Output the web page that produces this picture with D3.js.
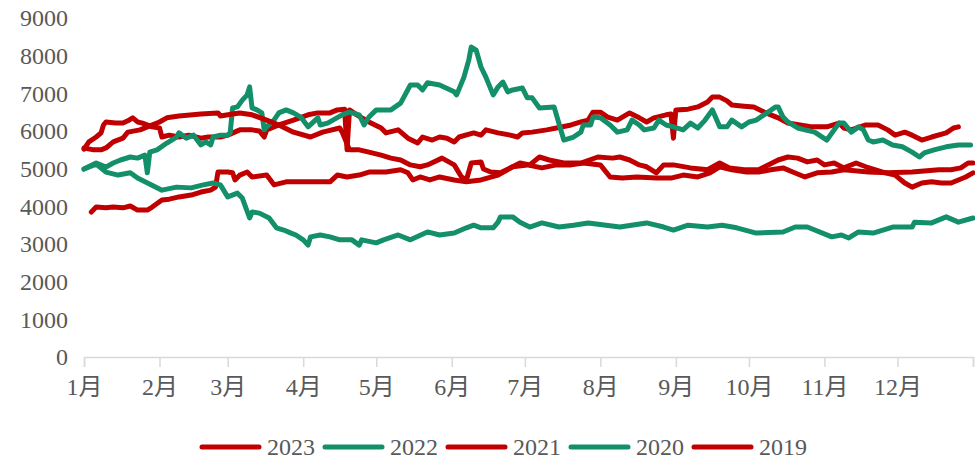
<!DOCTYPE html>
<html>
<head>
<meta charset="utf-8">
<script src="https://cdn.jsdelivr.net/npm/d3@7"></script>
<style>
  body { margin: 0; background: #fff; }
  text { font-family: "Liberation Serif", "Noto Sans CJK SC", serif; fill: #595959; }
</style>
</head>
<body>
<div class="canvas"></div>
<script>
// series names + colours (legend order = drawing order)
const years = ["2023", "2022", "2021", "2020", "2019"];
const colors = ["#c00000", "#138f6a", "#c00000", "#138f6a", "#c00000"];

const months = ["1月", "2月", "3月", "4月", "5月", "6月", "7月", "8月", "9月", "10月", "11月", "12月"];
const yTicks = [0, 1000, 2000, 3000, 4000, 5000, 6000, 7000, 8000, 9000];

// [day of year, value]
const s2023 = [[0,5520],[2,5710],[5,5840],[7,5950],[8,6160],[9,6240],[13,6210],[16,6210],[18,6270],[20,6350],
  [22,6240],[24,6210],[28,6110],[31,6080],[32,5840],[35,5890],[39,5840],[43,5890],[48,5810],[51,5840],
  [56,5840],[59,5890],[64,6030],[69,6030],[72,6000],[74,5840],[75,6030],[80,6160],[86,6290],[92,6430],
  [96,6480],[101,6480],[104,6560],[107,6580],[108,5500],[109,6560],[112,6430],[117,6240],[122,6080],[124,5950],
  [129,6030],[133,5810],[137,5680],[139,5840],[143,5760],[146,5840],[149,5810],[152,5710],[154,5840],[160,5950],
  [163,5890],[165,6030],[170,5950],[175,5890],[178,5840],[180,5950],[184,5970],[190,6030],[194,6080],[200,6160],
  [204,6240],[207,6290],[209,6500],[212,6500],[215,6370],[219,6290],[224,6480],[228,6350],[231,6240],[234,6350],
  [239,6430],[241,6450],[242,5810],[243,6560],[248,6580],[252,6640],[256,6770],[258,6900],[261,6900],[264,6800],
  [266,6690],[271,6660],[275,6640],[280,6480],[285,6350],[289,6210],[294,6160],[299,6110],[305,6110],[310,6210],
  [312,6080],[315,6030],[321,6160],[326,6160],[330,6030],[333,5890],[337,5970],[340,5890],[344,5760],[348,5840],
  [354,5950],[357,6080],[359,6110]];

const s2022 = [[0,4990],[5,5150],[9,5040],[12,5150],[15,5230],[19,5310],[22,5280],[25,5360],[26,4890],[27,5440],
  [30,5500],[34,5680],[38,5840],[39,5950],[42,5810],[45,5890],[48,5630],[50,5710],[52,5630],[53,5840],
  [56,5890],[59,5890],[60,5950],[61,6610],[63,6640],[65,6820],[67,6960],[68,7170],[69,6610],[71,6560],
  [73,6480],[74,6030],[75,6110],[78,6290],[80,6480],[83,6560],[86,6480],[89,6370],[92,6110],[96,6350],
  [97,6160],[100,6210],[106,6430],[109,6500],[113,6430],[115,6160],[117,6370],[120,6560],[126,6560],[130,6740],
  [134,7220],[137,7220],[139,7090],[141,7280],[146,7220],[152,7040],[153,6960],[156,7430],[158,7890],[159,8230],
  [161,8150],[163,7700],[165,7430],[168,6960],[170,7170],[172,7300],[174,7040],[176,7090],[180,7140],[182,6880],
  [184,6880],[187,6610],[193,6640],[197,5760],[201,5840],[204,5970],[205,6160],[208,6160],[209,6370],[212,6350],
  [216,6160],[219,5970],[223,6030],[225,6290],[228,6160],[230,6030],[234,6080],[236,6290],[239,6160],[242,6110],
  [246,6030],[249,6210],[252,6080],[255,6290],[258,6560],[261,6110],[264,6110],[266,6290],[270,6110],[273,6240],
  [276,6290],[284,6640],[285,6640],[287,6370],[289,6240],[293,6080],[296,6030],[300,5970],[305,5760],[310,6210],
  [312,6210],[315,5970],[318,6110],[320,6030],[322,5760],[324,5710],[328,5760],[332,5630],[336,5580],[340,5440],
  [343,5310],[345,5420],[349,5500],[354,5580],[359,5630],[364,5630]];

const s2021 = [[3,3850],[5,3980],[9,3960],[12,3980],[16,3960],[19,4010],[22,3900],[26,3900],[28,3980],[32,4170],
  [35,4190],[39,4250],[44,4300],[48,4380],[52,4430],[54,4510],[55,4910],[59,4910],[61,4890],[62,4700],
  [64,4830],[67,4910],[69,4780],[75,4830],[78,4570],[83,4650],[89,4650],[101,4650],[104,4830],[108,4780],
  [113,4830],[117,4910],[124,4910],[130,4970],[133,4890],[135,4700],[138,4780],[142,4700],[146,4780],[152,4700],
  [157,4650],[163,4700],[170,4830],[176,5050],[182,5100],[188,5020],[194,5100],[200,5100],[205,5150],[212,5100],
  [216,4780],[221,4750],[227,4780],[235,4750],[241,4750],[246,4830],[252,4780],[257,4890],[261,5050],[266,4970],
  [272,4910],[277,4910],[282,4970],[287,5020],[291,4910],[296,4780],[301,4890],[307,4910],[312,4970],[322,4910],
  [330,4890],[340,4910],[351,4970],[356,4970],[360,5020],[363,5150],[365,5150]];

const s2020 = [[0,4990],[5,5120],[9,4910],[14,4830],[19,4890],[22,4750],[32,4430],[38,4510],[44,4490],[49,4570],
  [53,4620],[56,4570],[59,4250],[63,4350],[65,4220],[68,3690],[69,3850],[72,3820],[76,3690],[79,3430],
  [82,3370],[85,3290],[87,3240],[90,3110],[92,2970],[93,3190],[97,3240],[101,3190],[105,3110],[110,3110],
  [113,2970],[114,3110],[120,3030],[123,3110],[129,3240],[134,3110],[141,3320],[146,3240],[152,3290],[157,3430],
  [160,3500],[163,3430],[168,3430],[170,3580],[171,3720],[176,3720],[179,3580],[183,3450],[188,3560],[195,3450],
  [201,3500],[207,3560],[220,3450],[231,3560],[238,3450],[242,3370],[248,3500],[256,3450],[262,3500],[268,3430],
  [276,3290],[287,3320],[292,3450],[297,3450],[307,3190],[311,3240],[314,3160],[318,3320],[324,3290],[332,3450],
  [340,3450],[341,3580],[348,3560],[354,3720],[359,3580],[365,3690]];

const s2019 = [[0,5550],[4,5500],[7,5500],[9,5550],[12,5710],[16,5810],[18,5970],[23,6030],[26,6110],[31,6240],
  [34,6350],[39,6400],[48,6450],[55,6480],[56,6400],[61,6450],[64,6480],[69,6430],[75,6290],[80,6160],
  [86,5970],[93,5840],[98,5970],[105,6080],[106,5970],[109,5500],[113,5500],[117,5440],[122,5360],[126,5280],
  [130,5230],[134,5100],[138,5050],[141,5100],[147,5280],[152,5100],[155,4780],[157,4700],[159,5150],[163,5180],
  [164,4990],[167,4910],[171,4890],[175,5020],[179,5150],[183,5100],[187,5310],[191,5230],[197,5150],[204,5150],
  [211,5310],[217,5280],[220,5310],[224,5230],[228,5100],[231,5050],[235,4890],[238,5100],[242,5100],[249,5020],
  [256,4970],[261,5150],[265,5020],[271,4970],[277,4970],[285,5230],[289,5310],[293,5280],[297,5180],[301,5230],
  [304,5100],[308,5150],[312,5020],[317,5150],[321,5050],[325,4970],[329,4890],[333,4830],[337,4620],[340,4510],
  [344,4620],[348,4650],[352,4620],[356,4620],[359,4700],[362,4780],[365,4890]];

const series = [s2023, s2022, s2021, s2020, s2019];

const svg = d3.select(".canvas")
  .append("svg")
    .attr("width", 975)
    .attr("height", 461);

const day = d => new Date(2023, 0, 1 + d);

const x = d3.scaleTime()
  .domain([new Date(2023, 0, 1), new Date(2024, 0, 1)])
  .range([84, 973]);

const y = d3.scaleLinear()
  .domain([0, 9000])
  .range([357, 18]);

// x axis - ticks on the first of each month
const monthStarts = d3.range(13).map(m => new Date(2023, m, 1));
const xAxis = svg.append("g")
  .attr("transform", "translate(0,357)")
  .call(d3.axisBottom(x)
    .tickValues(monthStarts)
    .tickSize(10)
    .tickPadding(11)
    .tickFormat((d, i) => months[i] || ""));
xAxis.select(".domain").attr("stroke", "#d9d9d9").attr("stroke-width", 1.5);
xAxis.selectAll(".tick line").attr("stroke", "#d9d9d9").attr("stroke-width", 1.5);
xAxis.selectAll("text").style("font-size", "24px").attr("fill", "#595959");

// y axis - labels only
const yAxis = svg.append("g")
  .attr("transform", "translate(84,0)")
  .call(d3.axisLeft(y)
    .tickValues(yTicks)
    .tickFormat(d3.format("d"))
    .tickSize(0)
    .tickPadding(16));
yAxis.select(".domain").remove();
yAxis.selectAll("text").style("font-size", "24px").attr("fill", "#595959");

// lines
const line = d3.line()
  .x(d => x(day(d[0])))
  .y(d => y(d[1]));

svg.append("g")
  .selectAll("path")
  .data(series)
  .enter()
  .append("path")
    .attr("d", line)
    .attr("fill", "none")
    .attr("stroke", (d, i) => colors[i])
    .attr("stroke-width", 5)
    .attr("stroke-linejoin", "round")
    .attr("stroke-linecap", "round");

// legend
const legend = svg.append("g")
  .selectAll("g")
  .data(years)
  .enter()
  .append("g")
    .attr("transform", (d, i) => `translate(${202 + i * 123}, 447)`);

legend.append("line")
  .attr("x1", 0).attr("x2", 57)
  .attr("stroke", (d, i) => colors[i])
  .attr("stroke-width", 5)
  .attr("stroke-linecap", "round");

legend.append("text")
  .attr("x", 65)
  .attr("dy", "0.35em")
  .style("font-size", "24px")
  .text(d => d);
</script>
</body>
</html>
